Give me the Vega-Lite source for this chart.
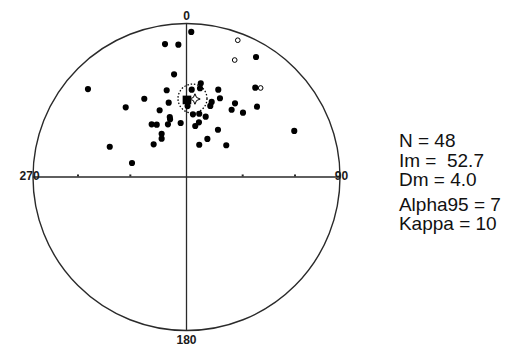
{
  "$schema": "https://vega.github.io/schema/vega-lite/v6.json",
  "width": 513,
  "height": 347,
  "autosize": {"type": "none"},
  "padding": 0,
  "background": "white",
  "config": {"view": {"stroke": null}},
  "datasets": {
    "pts": [
      {"x": 0.031, "y": 0.945, "pol": "lower"},
      {"x": -0.140, "y": 0.866, "pol": "lower"},
      {"x": -0.053, "y": 0.862, "pol": "lower"},
      {"x": 0.453, "y": 0.782, "pol": "lower"},
      {"x": -0.081, "y": 0.669, "pol": "lower"},
      {"x": -0.642, "y": 0.573, "pol": "lower"},
      {"x": 0.093, "y": 0.610, "pol": "lower"},
      {"x": -0.129, "y": 0.565, "pol": "lower"},
      {"x": 0.034, "y": 0.569, "pol": "lower"},
      {"x": 0.088, "y": 0.578, "pol": "lower"},
      {"x": 0.207, "y": 0.569, "pol": "lower"},
      {"x": 0.448, "y": 0.582, "pol": "lower"},
      {"x": -0.275, "y": 0.510, "pol": "lower"},
      {"x": -0.116, "y": 0.484, "pol": "lower"},
      {"x": 0.218, "y": 0.513, "pol": "lower"},
      {"x": -0.396, "y": 0.454, "pol": "lower"},
      {"x": 0.164, "y": 0.489, "pol": "lower"},
      {"x": 0.155, "y": 0.463, "pol": "lower"},
      {"x": 0.316, "y": 0.480, "pol": "lower"},
      {"x": 0.294, "y": 0.438, "pol": "lower"},
      {"x": 0.459, "y": 0.458, "pol": "lower"},
      {"x": 0.368, "y": 0.419, "pol": "lower"},
      {"x": -0.175, "y": 0.435, "pol": "lower"},
      {"x": 0.042, "y": 0.408, "pol": "lower"},
      {"x": 0.083, "y": 0.412, "pol": "lower"},
      {"x": 0.125, "y": 0.393, "pol": "lower"},
      {"x": -0.109, "y": 0.391, "pol": "lower"},
      {"x": -0.107, "y": 0.376, "pol": "lower"},
      {"x": -0.227, "y": 0.343, "pol": "lower"},
      {"x": -0.194, "y": 0.341, "pol": "lower"},
      {"x": -0.121, "y": 0.343, "pol": "lower"},
      {"x": -0.038, "y": 0.352, "pol": "lower"},
      {"x": 0.081, "y": 0.356, "pol": "lower"},
      {"x": 0.057, "y": 0.332, "pol": "lower"},
      {"x": 0.205, "y": 0.308, "pol": "lower"},
      {"x": 0.702, "y": 0.300, "pol": "lower"},
      {"x": -0.162, "y": 0.282, "pol": "lower"},
      {"x": -0.162, "y": 0.250, "pol": "lower"},
      {"x": 0.136, "y": 0.248, "pol": "lower"},
      {"x": -0.214, "y": 0.213, "pol": "lower"},
      {"x": 0.083, "y": 0.210, "pol": "lower"},
      {"x": 0.259, "y": 0.207, "pol": "lower"},
      {"x": -0.500, "y": 0.197, "pol": "lower"},
      {"x": -0.355, "y": 0.091, "pol": "lower"},
      {"x": 0.007, "y": 0.462, "pol": "lower"},
      {"x": 0.334, "y": 0.891, "pol": "upper"},
      {"x": 0.314, "y": 0.762, "pol": "upper"},
      {"x": 0.483, "y": 0.580, "pol": "upper"}
    ],
    "frame": [{"x": 0, "y": 0}],
    "axes": [
      {"x": -1, "x2": 1, "y": 0, "y2": 0},
      {"x": 0, "x2": 0, "y": -1, "y2": 1}
    ],
    "ticks": [
      {"x": -0.707, "y": 0.01}, {"x": -0.366, "y": 0.01}, {"x": 0.366, "y": 0.01}, {"x": 0.707, "y": 0.01}
    ],
    "dirlabels": [
      {"x": 0, "y": 1.049, "t": "0", "a": "center"},
      {"x": 1.01, "y": 0.006, "t": "90", "a": "left"},
      {"x": 0, "y": -1.06, "t": "180", "a": "center"},
      {"x": -1.022, "y": 0.006, "t": "270", "a": "right"}
    ],
    "stats": [
      {"x": 1.384, "y": 0.197, "t": "N = 48"},
      {"x": 1.384, "y": 0.067, "t": "Im =\u00a0 52.7"},
      {"x": 1.384, "y": -0.059, "t": "Dm = 4.0"},
      {"x": 1.384, "y": -0.220, "t": "Alpha95 = 7"},
      {"x": 1.384, "y": -0.345, "t": "Kappa = 10"}
    ],
    "mean": [{"x": 0.003, "y": 0.502}],
    "vgp": [{"x": 0.055, "y": 0.508}],
    "cone": [{"x": 0.039, "y": 0.511}]
  },
  "encoding": {
    "x": {"field": "x", "type": "quantitative", "axis": null,
          "scale": {"domain": [-1.215, 2.127], "nice": false, "zero": false}},
    "y": {"field": "y", "type": "quantitative", "axis": null,
          "scale": {"domain": [-1.1075, 1.1531], "nice": false, "zero": false}}
  },
  "layer": [
    {
      "data": {"name": "axes"},
      "mark": {"type": "rule", "color": "#2a2a2a", "strokeWidth": 1.3},
      "encoding": {
        "x2": {"field": "x2"},
        "y2": {"field": "y2"}
      }
    },
    {
      "data": {"name": "ticks"},
      "mark": {"type": "point", "shape": "square", "filled": true, "color": "#2a2a2a", "size": 4, "opacity": 1}
    },
    {
      "data": {"name": "frame"},
      "mark": {"type": "point", "shape": "circle", "filled": false, "stroke": "#2a2a2a", "strokeWidth": 1.4, "size": 94249, "opacity": 1}
    },
    {
      "data": {"name": "pts"},
      "transform": [{"filter": "datum.pol === 'lower'"}],
      "mark": {"type": "point", "shape": "circle", "filled": true, "color": "black", "size": 38, "opacity": 1}
    },
    {
      "data": {"name": "pts"},
      "transform": [{"filter": "datum.pol === 'upper'"}],
      "mark": {"type": "point", "shape": "circle", "filled": false, "stroke": "black", "fill": "white", "strokeWidth": 1, "size": 22, "opacity": 1}
    },
    {
      "data": {"name": "cone"},
      "mark": {"type": "point", "shape": "circle", "filled": false, "stroke": "black", "strokeWidth": 1.3, "strokeDash": [1.5, 1.8], "size": 841, "opacity": 1}
    },
    {
      "data": {"name": "mean"},
      "mark": {"type": "point", "shape": "square", "filled": true, "color": "black", "size": 75, "opacity": 1}
    },
    {
      "data": {"name": "vgp"},
      "mark": {"type": "point", "shape": "M0,-1L0.3,-0.3L1,0L0.3,0.3L0,1L-0.3,0.3L-1,0L-0.3,-0.3Z", "filled": true, "fill": "white", "stroke": "black", "strokeWidth": 1, "size": 110, "opacity": 1}
    },
    {
      "data": {"name": "dirlabels"},
      "mark": {"type": "text", "font": "Liberation Sans", "fontWeight": "bold", "fontSize": 12, "baseline": "middle", "color": "#1a1a1a"},
      "encoding": {
        "text": {"field": "t"},
        "align": {"field": "a", "type": "nominal", "scale": null}
      }
    },
    {
      "data": {"name": "stats"},
      "mark": {"type": "text", "font": "Liberation Sans", "fontSize": 19, "align": "left", "baseline": "alphabetic", "color": "#111111"},
      "encoding": {
        "text": {"field": "t"}
      }
    }
  ]
}
